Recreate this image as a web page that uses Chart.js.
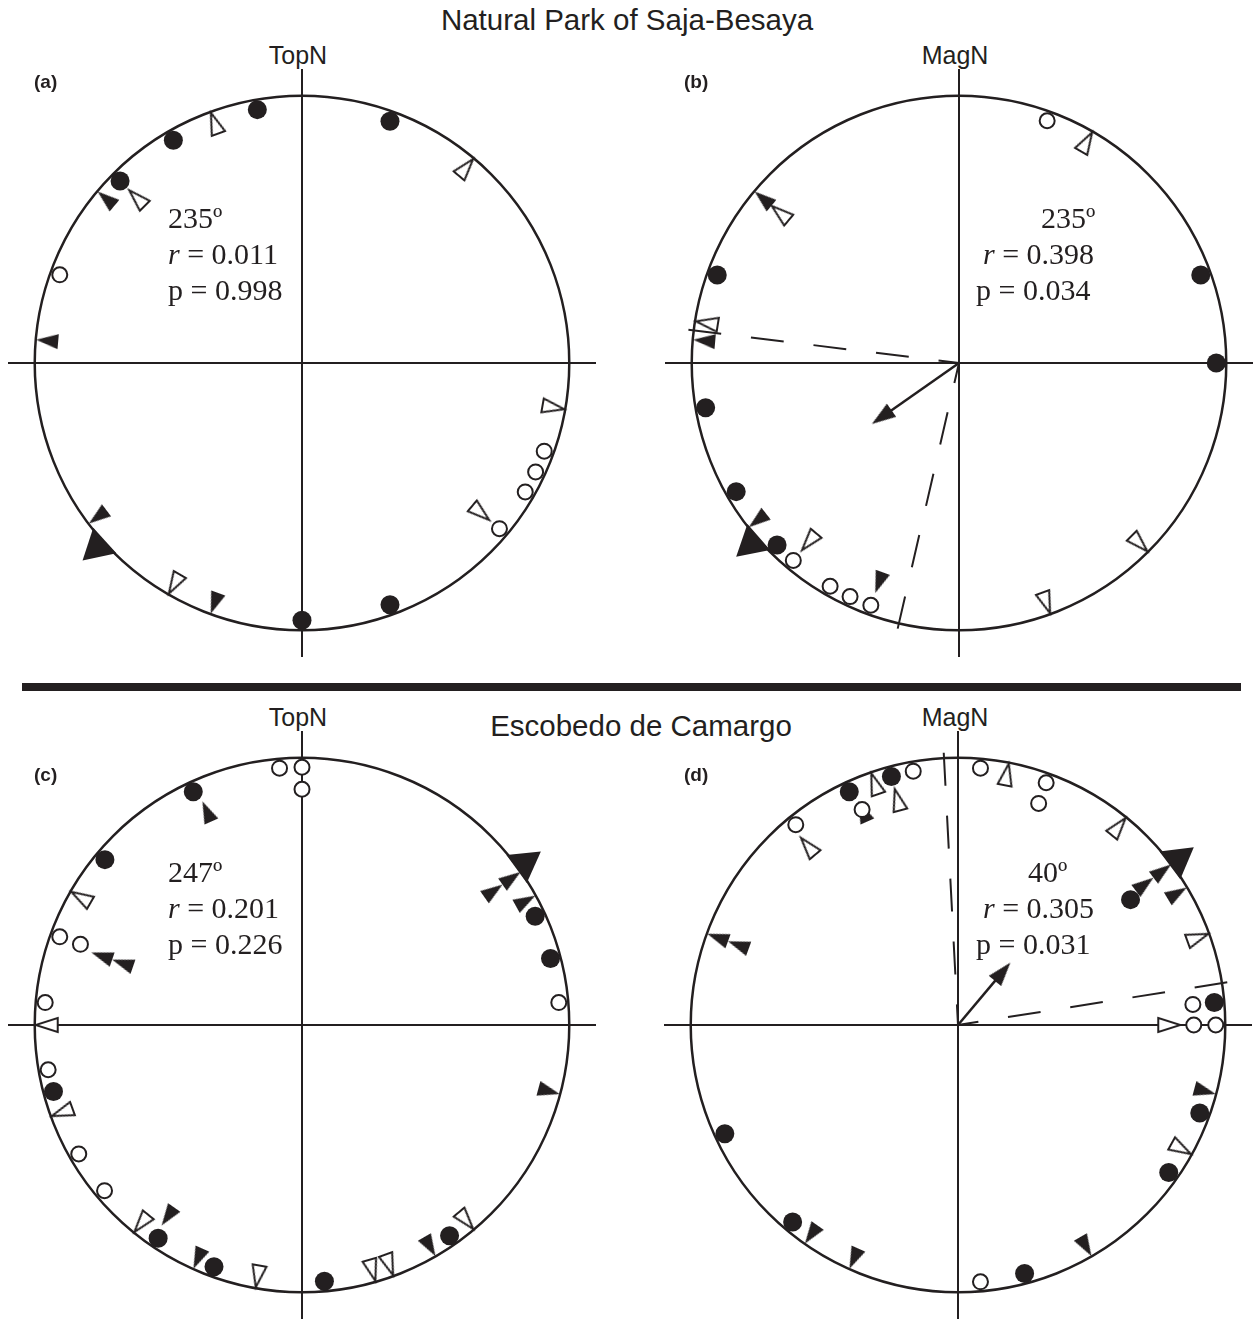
<!DOCTYPE html>
<html>
<head>
<meta charset="utf-8">
<script src="https://cdn.jsdelivr.net/npm/chart.js"></script>
<style>
  body { margin: 0; background: #fff; width: 1253px; height: 1320px; position: relative; overflow: hidden;
         font-family: "Liberation Sans", Arial, sans-serif; color: #231f20; }
  canvas { position: absolute; }
  .txt { position: absolute; white-space: nowrap; line-height: 1; }
  .title { font-size: 29.5px; transform: translateX(-50%); }
  .north { font-size: 25px; transform: translateX(-50%); }
  .tag { font-size: 19px; font-weight: bold; }
  .stat { font-family: "Liberation Serif", "Times New Roman", serif; font-size: 30px; }
  .rule { position: absolute; left: 22px; top: 683px; width: 1219px; height: 8px; background: #231f20; }
</style>
</head>
<body>
<div class="txt title" style="left:627px; top:5px">Natural Park of Saja-Besaya</div>
<div class="txt title" style="left:641px; top:711px">Escobedo de Camargo</div>
<div class="rule"></div>

<canvas id="pa" width="588" height="588" style="left:8px; top:69px"></canvas>
<canvas id="pb" width="588" height="588" style="left:665px; top:69px"></canvas>
<canvas id="pc" width="588" height="588" style="left:8px; top:731px"></canvas>
<canvas id="pd" width="588" height="588" style="left:664px; top:731px"></canvas>

<div class="txt north" style="left:298px; top:43px">TopN</div>
<div class="txt north" style="left:955px; top:43px">MagN</div>
<div class="txt north" style="left:298px; top:705px">TopN</div>
<div class="txt north" style="left:955px; top:705px">MagN</div>
<div class="txt tag" style="left:34px; top:72px">(a)</div>
<div class="txt tag" style="left:684px; top:72px">(b)</div>
<div class="txt tag" style="left:34px; top:765px">(c)</div>
<div class="txt tag" style="left:684px; top:765px">(d)</div>

<script>
// orientations in degrees, clockwise from north; "Row" = how many places a mark is stacked inwards
// (a) Saja-Besaya, topographic north
const aFilledCircle = [350, 330, 315, 20, 180, 160];
const aOpenCircle = [290, 130, 120, 115, 110];
const aFilledTri = [310, 275, 233, 200];
const aOpenTri = [340, 315, 40, 130, 100, 210];
const aOpenTriRow = [0, 1, 0, 1, 0, 0];
const aBigTri = [228];

// (b) Saja-Besaya, magnetic north
const bFilledCircle = [290, 260, 240, 225, 70, 90];
const bOpenCircle = [20, 220, 210, 205, 200];
const bFilledTri = [310, 275, 232, 200];
const bFilledTriRow = [0, 0, 0, 1];
const bOpenTri = [310, 279, 220, 30, 135, 160];
const bOpenTriRow = [1, 0, 1, 0, 0, 0];
const bBigTri = [229];

// (c) Escobedo de Camargo, topographic north
const cFilledCircle = [335, 310, 255, 214, 200, 175, 145, 65, 75];
const cOpenCircle = [355, 0, 0, 290, 290, 275, 260, 240, 230, 85];
const cOpenCircleRow = [0, 0, 1, 0, 1, 0, 0, 0, 0, 0];
const cFilledTri = [336, 289, 289, 215, 204, 150, 105, 55, 55, 61];
const cFilledTriRow = [1, 2, 3, 1, 0, 0, 0, 0, 1, 0];
const cOpenTri = [300, 270, 250, 219, 190, 164, 160, 140];
const cBigTri = [54];

// (d) Escobedo de Camargo, magnetic north
const dFilledCircle = [335, 345, 54, 85, 110, 125, 165, 220, 245];
const dFilledCircleRow = [0, 0, 2, 0, 0, 0, 0, 0, 0];
const dOpenCircle = [5, 20, 20, 85, 90, 90, 175, 321, 336, 350];
const dOpenCircleRow = [0, 0, 1, 1, 1, 0, 0, 0, 1, 0];
const dFilledTri = [336, 53, 53, 59, 105, 150, 204, 215, 290, 290];
const dFilledTriRow = [1, 0, 1, 0, 0, 0, 0, 0, 0, 1];
const dOpenTri = [11, 39, 70, 90, 119, 320, 341, 345];
const dOpenTriRow = [0, 0, 0, 2, 0, 1, 0, 1];
const dBigTri = [53];

// statistics per panel a, b, c, d
const meanAngle = [235, 235, 247, 40];
const meanR = [0.011, 0.398, 0.201, 0.305];
const pValue = [0.998, 0.034, 0.226, 0.031];
const ciLow = [null, 193, null, 357];
const ciHigh = [null, 277, null, 81];

const INK = '#231f20';
const PX = 588 / 2.2;   // pixels for one unit of radius
const ROW_GAP = 22;     // px between stacked marks

function polar(angle, r) {
    const t = angle * Math.PI / 180;
    return { x: r * Math.sin(t), y: r * Math.cos(t) };
}

// narrow arrowhead pointing up, tip h/2 above the centre
function arrowImg(w, h, filled) {
    const pad = 3;
    const c = document.createElement('canvas');
    c.width = w + 2 * pad;
    c.height = h + 2 * pad;
    const g = c.getContext('2d');
    g.beginPath();
    g.moveTo(c.width / 2, pad);
    g.lineTo(c.width / 2 + w / 2, pad + h);
    g.lineTo(c.width / 2 - w / 2, pad + h);
    g.closePath();
    g.fillStyle = filled ? INK : '#fff';
    g.fill();
    if (!filled) {
        g.lineWidth = 2;
        g.strokeStyle = INK;
        g.stroke();
    }
    return c;
}

const FC = { style: 'circle', radius: 9.5, inset: 10, fill: INK, border: 0 };
const OC = { style: 'circle', radius: 7.5, inset: 9.5, fill: '#fff', border: 2 };
const FT = { style: arrowImg(15, 22, true), radius: 10, inset: 11.5, fill: INK, border: 0 };
const OT = { style: arrowImg(14, 22, false), radius: 10, inset: 12, fill: '#fff', border: 0 };
const BT = { style: 'triangle', radius: 20, inset: -8, fill: INK, border: 0 };
const HEAD = arrowImg(16, 24, true);

function markers(angles, rows, spec) {
    rows = rows || angles.map(() => 0);
    return {
        data: angles.map((a, i) => polar(a, 1 - (spec.inset + rows[i] * ROW_GAP) / PX)),
        pointStyle: spec.style,
        pointRadius: spec.radius,
        pointRotation: angles,
        pointBackgroundColor: spec.fill,
        pointBorderColor: INK,
        pointBorderWidth: spec.border,
        showLine: false,
        clip: false
    };
}

// circle and cross axes, drawn under the marks
const frame = {
    id: 'frame',
    beforeDatasetsDraw(chart) {
        const ctx = chart.ctx, x = chart.scales.x, y = chart.scales.y;
        const cx = x.getPixelForValue(0), cy = y.getPixelForValue(0);
        ctx.save();
        ctx.strokeStyle = INK;
        ctx.lineWidth = 2;
        ctx.beginPath();
        ctx.moveTo(x.getPixelForValue(-1.1), cy);
        ctx.lineTo(x.getPixelForValue(1.1), cy);
        ctx.moveTo(cx, y.getPixelForValue(1.1));
        ctx.lineTo(cx, y.getPixelForValue(-1.1));
        ctx.stroke();
        ctx.lineWidth = 2.5;
        ctx.beginPath();
        ctx.arc(cx, cy, x.getPixelForValue(1) - cx, 0, 2 * Math.PI);
        ctx.stroke();
        ctx.restore();
    }
};

function drawPanel(id, k, s) {
    const datasets = [
        markers(s.big, null, BT),
        markers(s.fc, s.fcRow, FC),
        markers(s.oc, s.ocRow, OC),
        markers(s.ft, s.ftRow, FT),
        markers(s.ot, s.otRow, OT)
    ];
    if (ciLow[k] !== null) {
        [ciLow[k], ciHigh[k]].forEach(function(a) {
            datasets.push({
                data: [polar(a, 1.02), { x: 0, y: 0 }],
                showLine: true, borderColor: INK, borderWidth: 2, borderDash: [33, 30],
                pointRadius: 0, clip: false
            });
        });
        datasets.unshift({
            data: [polar(meanAngle[k], meanR[k] - 12 / PX)],
            pointStyle: HEAD, pointRadius: 10, pointRotation: meanAngle[k], clip: false
        });
        datasets.push({
            data: [{ x: 0, y: 0 }, polar(meanAngle[k], meanR[k] - 18 / PX)],
            showLine: true, borderColor: INK, borderWidth: 2.5, pointRadius: 0, clip: false
        });
    }
    new Chart(document.getElementById(id), {
        type: 'scatter',
        data: { datasets: datasets },
        options: {
            responsive: false,
            animation: false,
            events: [],
            layout: { autoPadding: false, padding: 0 },
            plugins: { legend: { display: false }, tooltip: { enabled: false } },
            scales: {
                x: { type: 'linear', min: -1.1, max: 1.1, display: false },
                y: { type: 'linear', min: -1.1, max: 1.1, display: false }
            }
        },
        plugins: [frame]
    });
}

// stats text, one line each
function statText(k, left, top) {
    const lines = [meanAngle[k] + 'º',
                   '<i>r</i> = ' + meanR[k].toFixed(3),
                   'p = ' + pValue[k].toFixed(3)];
    lines.forEach(function(t, i) {
        const d = document.createElement('div');
        d.className = 'txt stat';
        d.innerHTML = t;
        d.style.left = left[i] + 'px';
        d.style.top = (top + i * 36) + 'px';
        document.body.appendChild(d);
    });
}

drawPanel('pa', 0, { big: aBigTri, fc: aFilledCircle, oc: aOpenCircle, ft: aFilledTri, ot: aOpenTri, otRow: aOpenTriRow });
drawPanel('pb', 1, { big: bBigTri, fc: bFilledCircle, oc: bOpenCircle, ft: bFilledTri, ftRow: bFilledTriRow, ot: bOpenTri, otRow: bOpenTriRow });
drawPanel('pc', 2, { big: cBigTri, fc: cFilledCircle, oc: cOpenCircle, ocRow: cOpenCircleRow, ft: cFilledTri, ftRow: cFilledTriRow, ot: cOpenTri });
drawPanel('pd', 3, { big: dBigTri, fc: dFilledCircle, fcRow: dFilledCircleRow, oc: dOpenCircle, ocRow: dOpenCircleRow, ft: dFilledTri, ftRow: dFilledTriRow, ot: dOpenTri, otRow: dOpenTriRow });

statText(0, [168, 168, 168], 203);
statText(1, [1041, 983, 976], 203);
statText(2, [168, 168, 168], 857);
statText(3, [1028, 983, 976], 857);
</script>
</body>
</html>
